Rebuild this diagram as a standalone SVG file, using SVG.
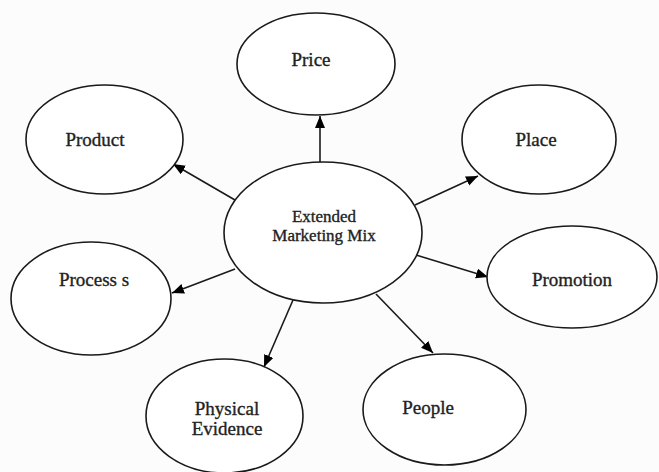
<svg xmlns="http://www.w3.org/2000/svg" width="659" height="472" viewBox="0 0 659 472">
  <style>
    .node ellipse { fill: #ffffff; stroke: #1a1a1a; stroke-width: 1.6; }
    .node text { font-family: "Liberation Serif", "Times New Roman", serif; font-size: 19px; fill: #222; stroke: #222; stroke-width: 0.35; text-anchor: middle; }
    .node.center text { font-size: 17px; }
    .edges line { stroke: #1a1a1a; stroke-width: 1.6; marker-end: url(#arrow); }
  </style>
  <defs>
    <marker id="arrow" markerUnits="userSpaceOnUse" markerWidth="13" markerHeight="11" refX="12" refY="5" orient="auto">
      <path d="M0,0 L12,5 L0,10 z" fill="#000"/>
    </marker>
  </defs>
  <rect width="659" height="472" fill="#fdfcfd"/>
  <g class="edges" id="connectors">
    <line x1="320" y1="163" x2="320" y2="116"/>
    <line x1="235" y1="200" x2="173" y2="164"/>
    <line x1="415" y1="205" x2="478" y2="176"/>
    <line x1="235" y1="269" x2="172" y2="293"/>
    <line x1="416" y1="255" x2="488" y2="277"/>
    <line x1="293" y1="300" x2="264" y2="367"/>
    <line x1="376" y1="294" x2="433" y2="353"/>
  </g>
  <g class="node center" id="extended-marketing-mix">
    <ellipse cx="323" cy="232.5" rx="99" ry="70.5"/>
    <text x="324" y="222">Extended</text>
    <text x="324" y="241">Marketing Mix</text>
  </g>
  <g class="node" id="price">
    <ellipse cx="316" cy="64" rx="79" ry="51"/>
    <text x="311" y="66">Price</text>
  </g>
  <g class="node" id="product">
    <ellipse cx="104.5" cy="139.5" rx="78.5" ry="54.5"/>
    <text x="95" y="146">Product</text>
  </g>
  <g class="node" id="place">
    <ellipse cx="539" cy="139.5" rx="77" ry="54.5"/>
    <text x="536" y="146">Place</text>
  </g>
  <g class="node" id="processes">
    <ellipse cx="91" cy="298.5" rx="80" ry="56.5"/>
    <text x="94" y="286">Process s</text>
  </g>
  <g class="node" id="promotion">
    <ellipse cx="572" cy="277" rx="85" ry="51"/>
    <text x="572" y="286">Promotion</text>
  </g>
  <g class="node" id="physical-evidence">
    <ellipse cx="224.5" cy="416" rx="78.5" ry="57"/>
    <text x="227" y="415">Physical</text>
    <text x="227" y="435">Evidence</text>
  </g>
  <g class="node" id="people">
    <ellipse cx="444.5" cy="409.5" rx="81.5" ry="55.5"/>
    <text x="428" y="414">People</text>
  </g>
</svg>
